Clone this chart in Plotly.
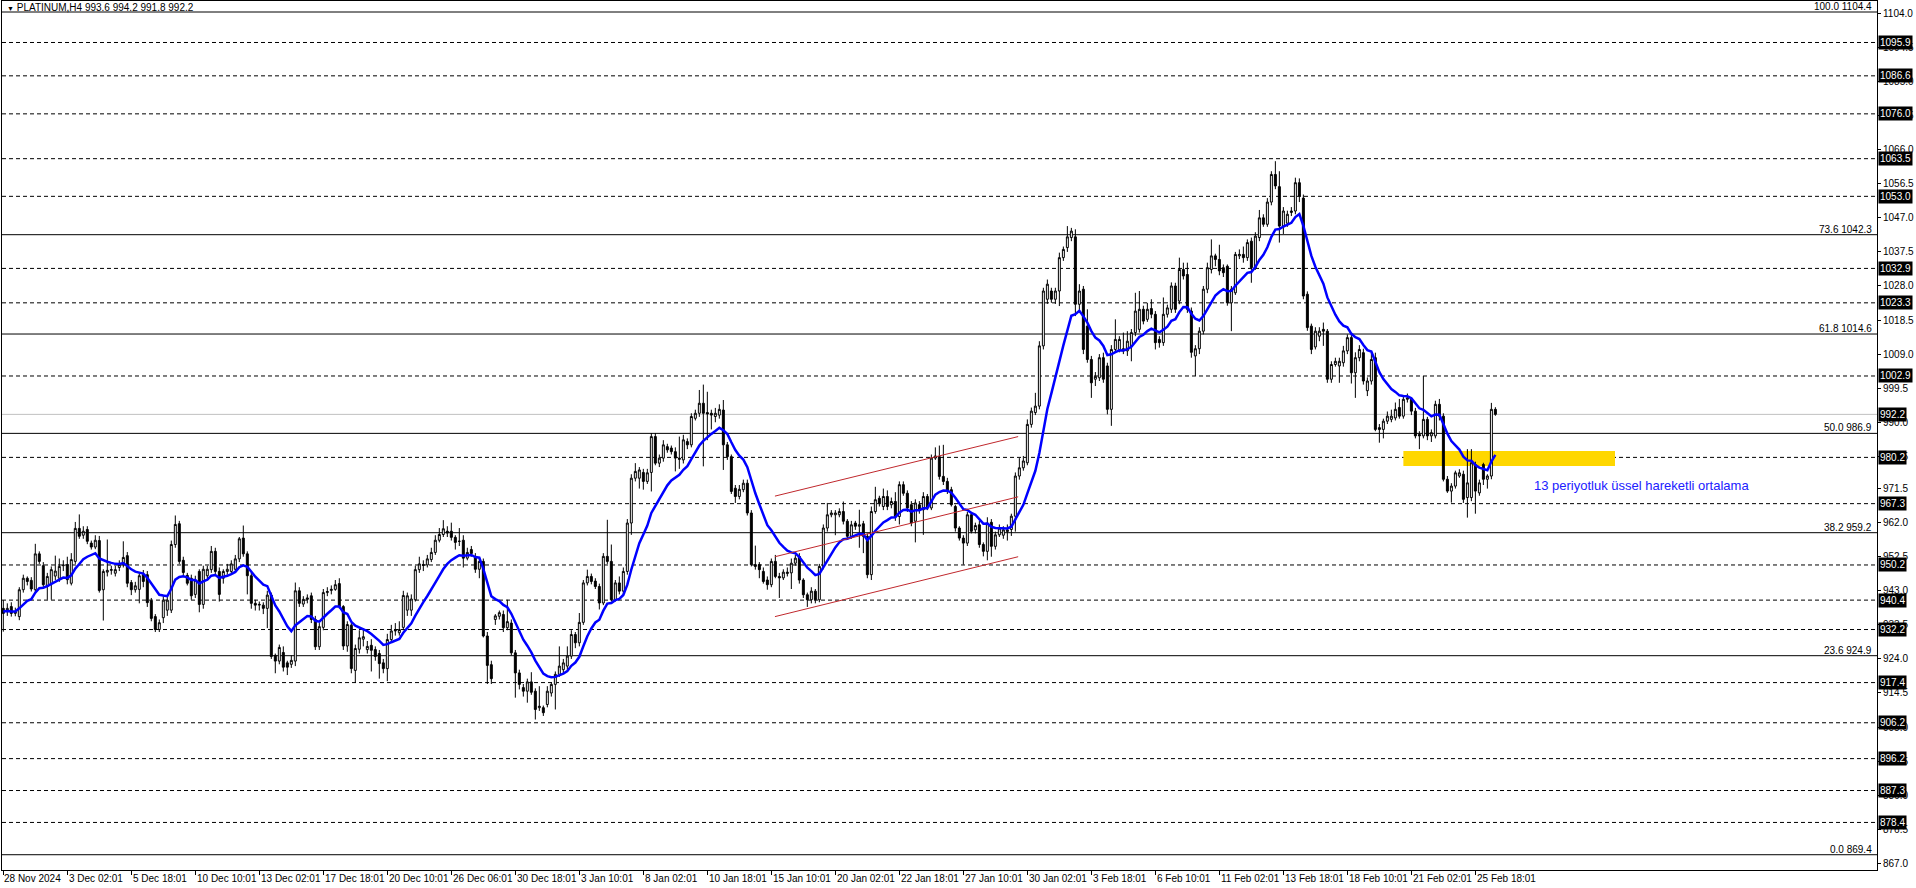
import plotly.graph_objects as go

# ---------------- data (H4 candles) ----------------
opens = [
 938.1,937.2,938.6,936.7,935.8,943.3,946.5,945.9,943.3,953.3,950.0,944.2,945.0,947.1,946.5,950.0,950.3,945.1,951.2,960.4,
 958.5,960.1,956.3,955.2,957.0,943.3,948.2,948.7,947.9,949.5,950.3,952.8,945.3,943.3,943.4,947.5,947.5,940.2,935.8,932.2,
 935.5,937.6,937.6,955.9,961.7,951.5,947.3,946.5,942.0,948.4,939.2,947.2,948.9,954.0,948.4,946.5,948.4,948.4,949.0,951.9,
 957.7,953.3,947.2,939.5,939.0,939.0,938.1,941.8,925.0,923.4,925.8,922.9,922.5,923.4,943.0,939.3,940.6,941.6,935.0,927.4,
 932.8,942.5,943.1,943.4,945.0,938.6,927.6,933.4,920.8,926.7,929.5,926.6,927.8,926.6,925.5,922.9,921.3,929.4,931.8,931.3,
 932.8,937.6,937.6,940.5,948.9,950.3,950.2,951.7,953.7,957.1,958.7,959.6,959.6,957.9,956.8,957.1,952.1,954.5,952.3,949.0,
 951.2,930.4,922.4,935.0,935.9,
 936.4,932.7,934.0,925.7,920.1,916.0,915.0,917.6,915.0,910.4,910.4,911.3,914.5,916.9,919.7,921.0,922.0,924.8,930.8,928.5,
 934.2,945.2,947.0,945.7,944.2,939.6,952.6,951.2,940.5,945.2,942.9,948.4,961.9,974.4,974.4,976.0,973.5,976.0,986.0,978.6,
 980.0,983.2,982.8,981.8,980.0,979.5,984.6,983.7,991.1,992.5,995.3,992.7,992.5,991.6,992.0,993.4,983.7,980.4,971.6,969.3,
 971.2,973.0,964.7,950.3,950.3,948.4,946.0,944.7,951.2,947.0,946.6,947.8,948.0,950.7,952.6,946.0,941.9,940.5,942.9,940.5,
 949.8,960.5,964.2,964.2,964.2,965.1,962.4,958.2,961.9,961.0,961.7,958.2,947.5,965.1,968.8,966.5,969.3,967.0,967.9,963.7,
 972.6,970.2,967.0,962.4,967.0,965.6,969.3,966.1,980.0,980.4,974.9,973.5,971.2,966.5,960.5,957.7,956.3,964.2,960.0,961.4,
 955.9,954.0,962.1,955.4,958.6,
 958.5,959.5,960.1,963.8,975.0,977.3,978.7,989.4,992.7,994.5,1011.3,1024.3,1026.6,1024.3,1026.6,1035.9,1038.7,1041.5,1041.7,1022.9,
 1027.1,1016.8,1007.5,1002.0,1002.4,1008.0,1005.7,993.6,1010.3,1010.3,1010.5,1009.9,1011.3,1015.0,1015.9,1021.5,1018.7,1021.7,1020.1,1013.1,
 1012.2,1020.1,1021.5,1028.0,1023.8,1032.6,1031.2,1021.0,1008.5,1010.5,1015.4,1027.1,1032.6,1036.4,1035.4,1033.1,1033.5,1023.3,1026.1,1036.4,
 1036.8,1035.9,1040.5,1033.1,1041.5,1047.0,1045.2,1051.4,1059.1,1055.7,1044.7,1045.5,1048.5,1048.9,1056.8,1052.5,1025.7,1016.8,1011.0,1014.0,
 1015.9,1015.4,1002.0,1006.1,1005.7,1006.6,1009.9,1013.6,1003.8,1008.0,1009.4,998.8,1001.5,1008.0,988.5,988.0,990.3,990.8,991.2,994.1,
 991.7,996.4,996.4,993.1,986.6,986.2,990.8,986.2,986.2,995.0,991.7,974.1,970.8,972.2,975.0,975.5,969.0,969.0,978.2,970.3,
 978.2,974.1,975.0,993.6]
highs = [
 940.4,939.5,939.8,938.3,944.0,947.5,947.0,946.8,956.1,954.0,951.0,948.0,949.8,952.8,952.0,951.5,952.5,953.5,962.2,964.3,
 961.0,961.0,957.0,958.5,958.3,949.0,957.3,950.0,950.0,951.5,956.8,953.8,946.0,945.5,948.0,948.8,948.5,941.0,936.5,935.0,
 941.5,941.5,957.0,964.0,962.5,952.5,948.0,947.5,947.2,949.0,950.0,950.0,955.5,955.0,949.5,949.0,950.5,951.5,953.0,958.0,
 961.2,954.0,948.0,940.5,940.0,939.8,943.0,942.5,925.5,928.0,927.5,923.5,925.0,945.3,944.0,941.5,942.0,942.5,936.0,934.0,
 943.5,944.0,944.5,946.0,946.5,939.0,934.5,934.0,928.0,932.0,932.5,929.0,929.5,927.5,926.5,924.0,931.0,933.5,934.0,934.5,
 943.0,942.5,942.0,950.0,952.5,951.5,953.0,955.0,958.5,960.5,962.7,961.0,962.0,958.5,960.5,958.5,955.0,955.5,953.5,952.0,
 952.0,931.5,923.5,936.5,937.5,
 937.5,940.5,935.0,926.5,921.0,917.0,918.5,920.3,915.8,916.4,911.0,916.4,917.5,920.5,927.5,924.0,927.5,932.0,931.5,936.8,
 946.0,948.9,947.8,946.5,945.0,953.5,962.8,955.9,946.0,947.0,949.5,963.0,975.5,978.6,977.5,977.0,977.0,987.0,987.0,981.0,
 985.0,984.0,983.5,983.0,986.0,986.5,985.5,992.5,993.5,999.0,1000.5,998.5,993.5,994.0,995.0,996.2,984.5,981.0,972.5,972.5,
 974.0,974.0,965.5,955.6,951.0,949.5,947.0,952.0,953.0,948.0,949.0,949.5,952.0,953.0,953.5,946.5,942.5,944.0,943.5,950.5,
 961.5,967.5,965.5,965.5,966.0,967.9,963.0,962.5,962.5,965.6,962.5,959.0,966.5,972.0,969.5,971.5,971.0,969.0,970.5,973.5,
 973.5,971.0,968.0,968.5,968.0,970.5,970.0,981.0,983.0,983.5,983.7,974.5,972.0,967.0,961.0,958.5,965.0,965.0,962.0,962.5,
 956.5,963.5,963.0,959.5,961.5,
 961.0,961.5,964.5,976.0,980.0,980.6,990.8,994.1,998.2,1012.6,1027.5,1029.8,1027.5,1027.5,1037.3,1039.0,1044.7,1044.2,1043.8,1028.5,
 1028.0,1021.5,1008.5,1004.0,1009.0,1009.4,1006.6,1011.5,1018.7,1014.0,1015.0,1015.4,1016.0,1026.1,1026.6,1022.5,1023.3,1024.3,1021.0,1014.0,
 1024.8,1022.8,1029.0,1028.9,1035.9,1034.5,1034.5,1022.0,1011.5,1016.5,1028.0,1034.5,1041.0,1037.0,1039.5,1034.0,1034.0,1028.0,1037.5,1038.2,
 1039.0,1041.0,1041.5,1043.0,1049.2,1048.0,1052.5,1060.0,1062.8,1060.0,1050.0,1049.0,1050.0,1058.2,1058.0,1053.5,1026.5,1017.5,1016.5,1016.5,
 1017.8,1016.0,1007.0,1008.0,1008.0,1011.3,1014.5,1014.5,1009.5,1011.5,1010.5,1002.5,1009.9,1009.4,989.5,991.0,993.0,993.5,995.5,996.5,
 997.3,998.0,997.0,994.0,987.5,1002.9,991.5,988.0,996.0,996.5,992.5,975.0,973.0,976.5,976.9,976.5,982.5,982.5,979.0,974.0,
 978.7,975.5,995.4,994.2]
lows = [
 931.6,936.0,935.8,935.9,934.8,942.5,944.5,942.8,942.5,950.5,943.8,940.5,940.5,946.0,945.5,948.5,944.8,944.5,950.5,957.5,
 957.5,956.0,954.5,954.6,942.5,934.7,947.0,947.5,947.0,948.5,949.5,944.0,941.8,942.5,939.5,944.0,938.5,934.5,931.5,931.5,
 934.0,936.0,936.8,955.0,950.5,947.0,944.5,940.5,941.0,937.0,938.0,946.5,948.0,947.5,940.0,945.0,947.5,947.5,948.0,951.0,
 952.5,942.0,938.0,937.5,937.5,936.5,932.6,924.0,920.0,922.5,920.5,919.5,921.5,922.0,938.5,938.5,939.5,934.0,926.5,926.5,
 932.0,941.5,942.0,943.0,938.0,926.5,926.0,920.0,917.3,925.5,927.5,925.5,920.5,923.5,918.5,920.0,917.8,928.5,930.5,930.5,
 932.0,936.0,936.0,940.0,948.0,948.5,949.5,951.0,953.0,956.5,958.0,958.0,957.0,954.5,955.5,949.5,951.5,952.5,948.0,946.5,
 930.0,917.0,917.0,933.5,935.0,
 931.5,932.0,925.0,913.2,915.5,913.5,911.8,914.0,907.1,909.5,908.1,910.5,913.5,909.9,919.0,920.0,921.0,924.0,927.0,927.5,
 933.5,944.5,944.8,943.5,937.8,939.0,950.5,940.0,940.0,942.0,942.0,947.5,958.6,973.5,971.5,971.2,972.8,970.7,978.0,977.5,
 979.0,981.5,981.0,976.3,977.0,978.5,982.5,983.0,990.5,991.5,977.7,985.0,988.0,990.0,991.0,976.7,979.5,970.0,967.5,968.5,
 970.5,964.0,949.8,948.9,946.5,945.0,943.3,944.0,946.5,941.0,946.0,947.0,943.5,950.0,945.0,941.0,938.5,939.5,939.5,939.8,
 949.0,959.5,963.5,958.5,963.5,961.5,957.5,957.5,960.0,955.0,953.5,946.5,946.0,964.5,966.5,965.5,965.5,966.0,962.5,961.5,
 969.5,965.0,961.0,956.5,964.5,958.6,965.5,965.5,979.5,974.0,972.5,970.0,966.5,959.5,957.0,950.3,955.5,959.0,959.0,955.0,
 952.6,951.5,952.5,954.5,958.0,
 957.5,957.0,958.3,959.5,974.0,976.5,978.0,988.5,992.0,993.6,1010.3,1023.0,1023.3,1023.0,1022.4,1035.0,1037.5,1040.5,1019.6,1020.5,
 1009.0,1006.6,996.8,1000.1,1001.5,1001.0,992.2,989.0,1009.5,1009.5,1009.0,1008.5,1007.0,1014.0,1015.0,1017.3,1018.0,1019.0,1010.3,1010.8,
 1011.3,1019.2,1020.5,1020.5,1022.9,1029.8,1020.5,1008.0,1002.9,1009.0,1014.5,1026.0,1031.5,1033.5,1031.0,1030.5,1022.5,1015.4,1025.5,1035.5,
 1034.5,1035.0,1028.9,1032.5,1040.5,1044.5,1044.5,1050.5,1055.0,1040.1,1042.5,1044.5,1047.5,1048.0,1051.4,1024.3,1015.5,1009.0,1010.3,1012.6,
 1011.3,1001.0,1001.0,1005.5,1001.0,1005.5,1009.0,1000.8,996.8,1007.0,1000.5,997.3,1000.5,987.5,984.3,985.5,989.5,990.0,990.5,991.0,
 991.0,995.5,992.0,985.5,982.5,985.5,985.0,984.5,985.5,990.5,973.5,970.3,967.6,971.5,974.5,967.5,963.4,968.0,964.5,969.5,
 972.5,971.5,974.1,991.8]
closes = [
 936.7,938.1,936.7,937.2,943.3,946.5,945.6,943.5,953.3,951.2,944.7,947.0,948.9,948.5,949.8,950.2,946.1,951.7,960.4,958.2,
 959.6,956.8,955.2,957.1,943.1,948.4,948.7,948.9,948.9,950.3,952.3,945.1,943.3,944.4,947.2,945.6,939.7,935.3,932.2,934.1,
 940.4,940.4,955.9,961.5,951.2,948.1,945.1,941.6,946.0,939.2,949.0,949.0,954.0,948.4,942.0,948.4,949.0,950.5,951.9,957.5,
 953.3,947.2,939.5,939.0,939.2,938.1,941.8,924.7,923.4,927.2,921.7,921.7,923.6,943.0,939.5,940.6,941.0,935.0,927.4,933.0,
 942.5,942.8,943.4,944.7,938.6,927.6,933.6,921.3,926.9,929.9,930.2,927.5,926.4,924.7,922.7,921.3,929.4,931.8,932.0,932.2,
 941.7,941.6,940.7,948.9,950.5,950.1,951.9,953.7,957.1,958.7,960.3,959.1,957.9,956.5,956.8,952.1,953.7,953.4,949.0,951.2,
 930.4,922.2,918.5,936.0,936.9,
 932.7,934.4,925.7,920.1,916.9,915.0,917.6,914.7,909.9,910.8,909.0,915.0,916.9,919.7,922.0,922.9,924.8,930.8,928.5,934.2,
 945.2,947.0,945.6,944.2,939.6,952.6,951.2,940.5,945.2,942.9,948.4,961.9,974.4,976.3,976.7,973.5,975.9,986.0,978.6,980.0,
 983.7,982.3,981.8,980.0,979.7,985.1,983.7,991.6,992.5,995.3,992.5,992.3,992.0,992.5,993.6,983.7,980.4,970.7,969.3,971.3,
 973.0,964.7,950.3,949.8,948.9,945.6,944.7,951.2,947.0,946.6,948.2,948.2,950.7,952.1,946.0,941.9,940.5,942.9,940.5,949.8,
 960.5,964.2,964.7,964.7,965.1,962.4,958.2,961.4,961.0,961.4,958.2,947.5,965.1,968.4,967.5,969.3,966.5,967.9,963.7,972.6,
 970.2,966.1,961.9,967.5,965.6,969.3,966.1,980.0,980.6,974.9,973.5,970.7,967.0,960.5,957.7,956.3,964.2,959.6,961.2,955.9,
 954.0,961.9,955.4,958.6,960.5,
 960.0,960.0,963.8,975.0,977.3,979.2,989.4,993.1,994.5,1011.3,1026.6,1028.5,1024.3,1026.6,1035.9,1038.2,1041.7,1043.3,1022.9,1026.6,
 1010.3,1007.5,1001.0,1002.8,1008.0,1002.0,993.6,1010.3,1013.1,1013.1,1009.9,1012.6,1015.0,1021.0,1021.5,1018.2,1021.5,1020.1,1012.2,1012.2,
 1020.1,1021.9,1028.0,1021.5,1032.6,1030.8,1021.5,1009.5,1010.5,1015.4,1027.1,1033.1,1036.4,1035.4,1032.2,1031.7,1023.3,1027.1,1036.8,1036.8,
 1035.9,1040.1,1033.1,1041.9,1047.0,1045.2,1051.4,1059.1,1055.9,1044.7,1048.9,1048.0,1048.9,1056.8,1053.1,1025.2,1016.4,1010.3,1015.4,1015.4,
 1015.4,1002.0,1006.1,1007.0,1007.0,1009.9,1013.6,1003.8,1008.0,1010.3,1001.5,1001.5,1007.5,988.0,988.0,990.3,991.7,991.7,993.6,991.7,
 996.4,996.8,993.1,986.2,986.2,990.8,986.2,987.1,995.0,991.7,974.1,970.8,972.2,975.9,975.9,968.5,973.1,978.7,970.8,973.1,
 974.1,975.0,993.6,992.2]

ema_period = 13
ema_seed = 937.3

x_tick_bars = [0, 16, 32, 48, 64, 80, 96, 112, 128, 144, 160, 176, 192, 208, 224, 240,
               256, 272, 288, 304, 320, 336, 352, 368]
x_tick_labels = ["28 Nov 2024", "3 Dec 02:01", "5 Dec 18:01", "10 Dec 10:01", "13 Dec 02:01",
                 "17 Dec 18:01", "20 Dec 10:01", "26 Dec 06:01", "30 Dec 18:01", "3 Jan 10:01",
                 "8 Jan 02:01", "10 Jan 18:01", "15 Jan 10:01", "20 Jan 02:01", "22 Jan 18:01",
                 "27 Jan 10:01", "30 Jan 02:01", "3 Feb 18:01", "6 Feb 10:01", "11 Feb 02:01",
                 "13 Feb 18:01", "18 Feb 10:01", "21 Feb 02:01", "25 Feb 18:01"]
y_tick_vals = [1104.0, 1094.5, 1085.0, 1075.5, 1066.0, 1056.5, 1047.0, 1037.5, 1028.0, 1018.5,
               1009.0, 999.5, 990.0, 980.5, 971.5, 962.0, 952.5, 943.0, 933.5, 924.0,
               914.5, 905.0, 895.5, 886.0, 876.5, 867.0]
level_lines = [1095.9, 1086.6, 1076.0, 1063.5, 1053.0, 1032.9, 1023.3, 1002.9, 980.2, 967.3,
               950.2, 940.4, 932.2, 917.4, 906.2, 896.2, 887.3, 878.4]
fib_pcts = [100.0, 73.6, 61.8, 50.0, 38.2, 23.6, 0.0]
fib_prices = [1104.4, 1042.3, 1014.6, 986.9, 959.2, 924.9, 869.4]
last_price = 992.2
channel_bars = [192.9, 253.7]
channel_upper = [969.4, 986.0]
channel_middle = [952.5, 969.2]
channel_lower = [935.8, 952.5]
zone_bars = [350.0, 402.9]
zone_prices = [977.8, 982.0]
title_text = "PLATINUM,H4 993.6 994.2 991.8 992.2"
note_text = "13 periyotluk üssel hareketli ortalama"

# ---------------- derived ----------------
bars = list(range(len(closes)))
alpha = 2.0 / (ema_period + 1)
ema = []
prev = ema_seed
for c in closes:
    prev = alpha * c + (1 - alpha) * prev
    ema.append(prev)

FONT = "Liberation Sans, Arial, sans-serif"

fig = go.Figure()
fig.add_trace(go.Candlestick(
    x=bars, open=opens, high=highs, low=lows, close=closes,
    increasing=dict(line=dict(color="black", width=1), fillcolor="white"),
    decreasing=dict(line=dict(color="black", width=1), fillcolor="black"),
    whiskerwidth=0, hoverinfo="skip", showlegend=False))
fig.add_trace(go.Scatter(x=bars, y=ema, mode="lines",
                         line=dict(color="#0000FF", width=2.5),
                         hoverinfo="skip", showlegend=False))

shapes = []
shapes.append(dict(type="rect", xref="x", yref="y", x0=zone_bars[0], x1=zone_bars[1],
                   y0=zone_prices[0], y1=zone_prices[1], fillcolor="#FFD700",
                   line=dict(width=0), layer="below"))
for lv in level_lines:
    shapes.append(dict(type="line", xref="paper", yref="y", x0=0, x1=1, y0=lv, y1=lv,
                       line=dict(color="black", width=1, dash="4px,3px"), layer="below"))
for fp in fib_prices:
    shapes.append(dict(type="line", xref="paper", yref="y", x0=0, x1=1, y0=fp, y1=fp,
                       line=dict(color="black", width=1), layer="below"))
shapes.append(dict(type="line", xref="paper", yref="y", x0=0, x1=1, y0=last_price, y1=last_price,
                   line=dict(color="#C0C0C0", width=1), layer="below"))
for ch in (channel_upper, channel_middle, channel_lower):
    shapes.append(dict(type="line", xref="x", yref="y", x0=channel_bars[0], x1=channel_bars[1],
                       y0=ch[0], y1=ch[1], line=dict(color="#C0282D", width=1), layer="above"))

ann = []
for p, v in zip(fib_pcts, fib_prices):
    ann.append(dict(xref="paper", yref="y", x=1, y=v, xanchor="right", yanchor="bottom",
                    xshift=-3, yshift=-2, text=f"{p:.1f} {v:.1f}", showarrow=False,
                    font=dict(family=FONT, size=10, color="black")))
for lv in level_lines + [last_price]:
    ann.append(dict(xref="paper", yref="y", x=1, y=lv, xanchor="left", yanchor="middle",
                    xshift=1, text=f"{lv:.1f}", showarrow=False, bgcolor="black", borderpad=1,
                    font=dict(family=FONT, size=10, color="white")))
for b, t in zip(x_tick_bars, x_tick_labels):
    ann.append(dict(xref="x", yref="paper", x=b, y=0, xanchor="left", yanchor="top",
                    xshift=0 if b else -1, yshift=-1, text=t, showarrow=False,
                    font=dict(family=FONT, size=10, color="black")))
ann.append(dict(xref="paper", yref="paper", x=0, y=1, xanchor="left", yanchor="top",
                xshift=3, yshift=1,
                text="<span style='font-size:7px'>▼</span> " + title_text, showarrow=False,
                font=dict(family=FONT, size=10, color="black")))
ann.append(dict(xref="x", yref="y", x=382.2, y=972.5, xanchor="left", yanchor="middle",
                text=note_text, showarrow=False,
                font=dict(family=FONT, size=13, color="#2020FF")))

fig.update_layout(
    width=1916, height=888,
    margin=dict(l=2, r=39, t=1, b=18),
    paper_bgcolor="white", plot_bgcolor="white",
    shapes=shapes, annotations=ann, showlegend=False,
    font=dict(family=FONT, size=10, color="black"),
    xaxis=dict(range=[-0.325, 468.4], rangeslider=dict(visible=False), showgrid=False,
               zeroline=False, tickvals=x_tick_bars, ticks="outside", ticklen=4,
               tickcolor="black", showticklabels=False, showline=True, linecolor="black",
               linewidth=1, mirror=True, fixedrange=True),
    yaxis=dict(range=[865.14, 1107.47], side="right", showgrid=False, zeroline=False,
               tickvals=y_tick_vals, ticktext=[f"{v:.1f}" for v in y_tick_vals],
               ticks="outside", ticklen=3, tickcolor="black", showline=True,
               linecolor="black", linewidth=1, mirror=True,
               tickfont=dict(family=FONT, size=10, color="black"), fixedrange=True),
)

fig.write_html("out.html", config={"displayModeBar": False},
               post_script="document.body.style.margin='0px';"
                           "document.body.style.overflow='hidden';")
